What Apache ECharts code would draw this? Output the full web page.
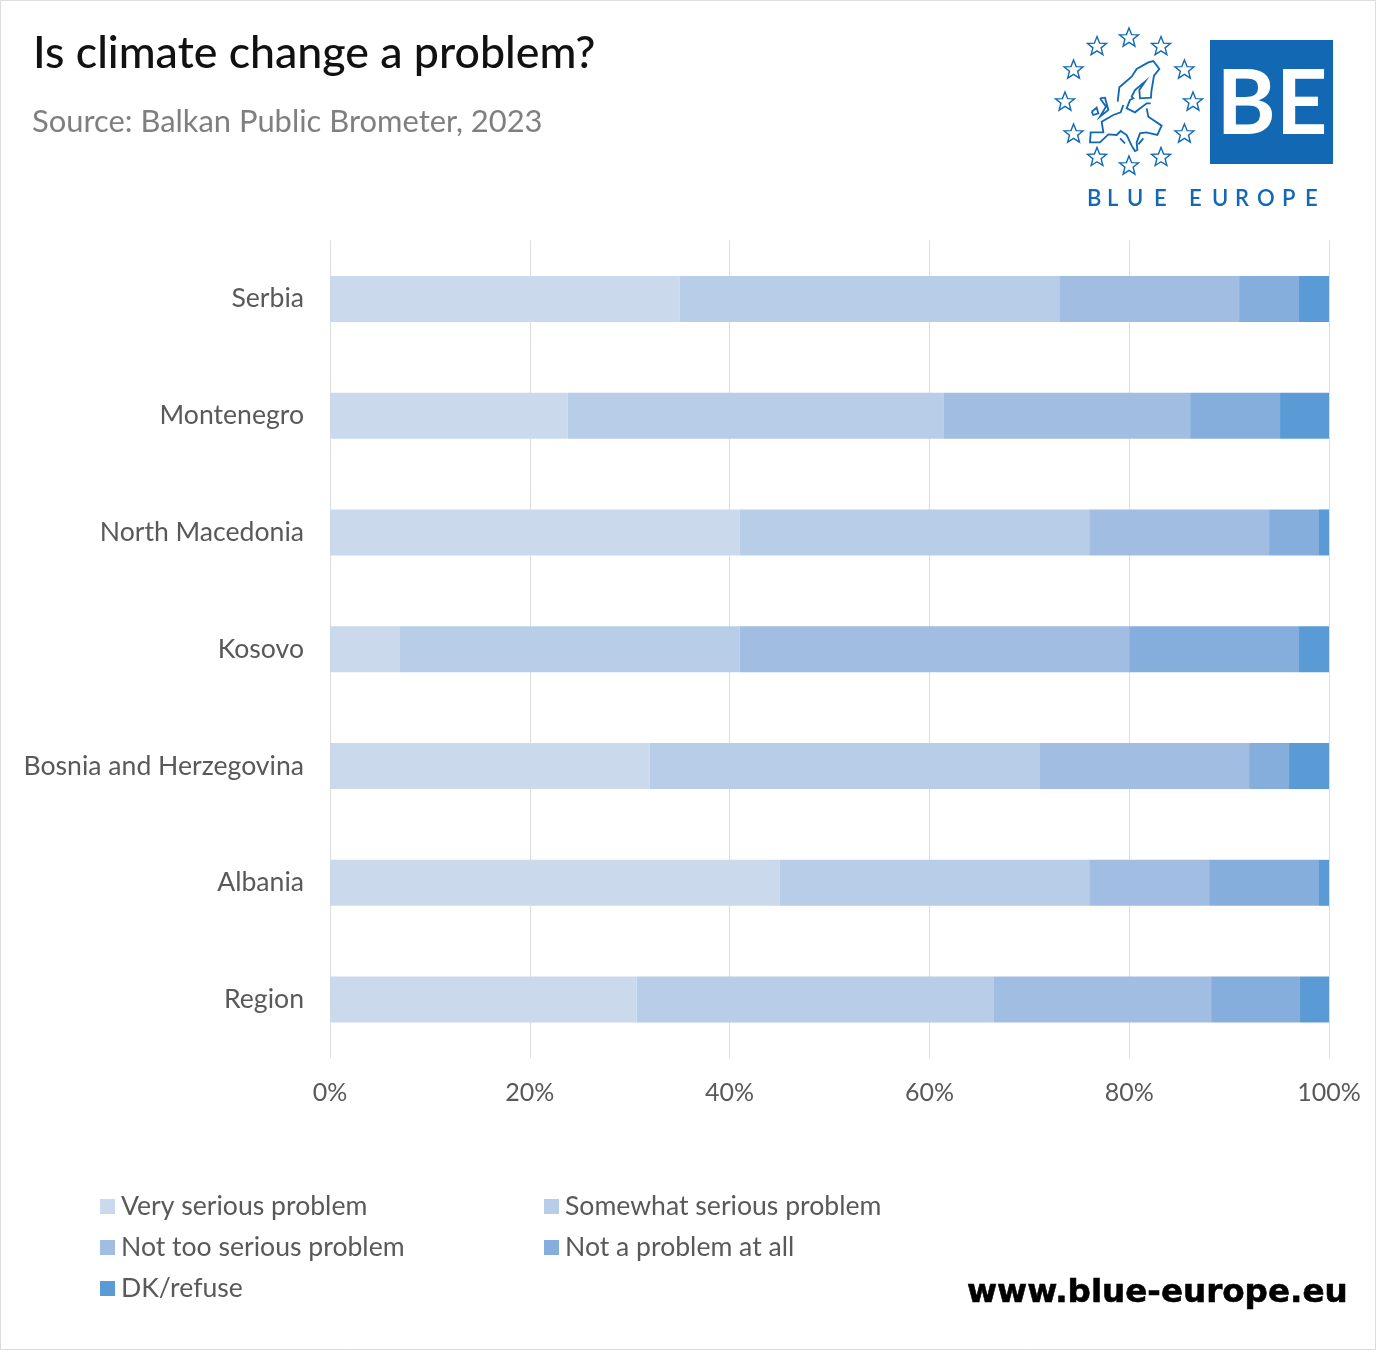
<!DOCTYPE html>
<html>
<head>
<meta charset="utf-8">
<style>html,body{margin:0;padding:0;background:#fff}#c{width:1376px;height:1350px}</style>
<script src="https://cdn.jsdelivr.net/npm/echarts@6/dist/echarts.min.js"></script>
</head>
<body>
<div id="c"></div>
<script>
const categories = ['Serbia','Montenegro','North Macedonia','Kosovo','Bosnia and Herzegovina','Albania','Region'];
const verySerious = [35,23.8,41,7,32,45,30.7];
const somewhatSerious = [38,37.6,35,34,39,31,35.7];
const notTooSerious = [18,24.7,18,39,21,12,21.8];
const notAtAll = [6,9,5,17,4,11,8.9];
const dkRefuse = [3,4.9,1,3,4,1,2.9];
const seriesNames = ['Very serious problem','Somewhat serious problem','Not too serious problem','Not a problem at all','DK/refuse'];
const seriesColors = ['#CBD9ED','#B8CDE8','#A2BDE2','#85AEDC','#5B9BD5'];
const seriesValues = [verySerious,somewhatSerious,notTooSerious,notAtAll,dkRefuse];
const legendSpots = [[100,1193],[544,1193],[100,1234],[544,1234],[100,1275]];

const FONT = 'Lato';
const BLUE = '#1268B3';
const starPts = [[0,-10],[2.6,-3.4],[9.5,-3.1],[4.1,1.3],[5.9,8.1],[0,4.3],[-5.9,8.1],[-4.1,1.3],[-9.5,-3.1],[-2.6,-3.4]];
const stars = [];
for (let i = 0; i < 12; i++) {
  const a = i * Math.PI / 6;
  stars.push({
    type:'polygon', x:1129+64*Math.sin(a), y:102-64*Math.cos(a),
    shape:{points:starPts},
    style:{fill:'none', stroke:BLUE, lineWidth:1.4}
  });
}
const europeLines = [
  [[113,140],[118,97],[155,65],[170,42],[205,22],[220,18],[238,42],[222,62],[214,110],[213,128],[180,130],[178,105],[195,80],[165,105],[155,125],[160,130],[150,135],[140,160],[165,172],[200,145],[212,145]],
  [[130,150],[122,172],[100,180],[65,200],[70,232],[32,232],[30,262],[60,262],[85,238],[110,240],[122,228],[140,240],[155,272],[165,288],[172,285],[170,262],[180,235],[198,232],[232,240],[245,212],[205,185],[200,160]],
  [[120,250],[135,265]],
  [[190,250],[175,268]],
  [[60,130],[75,128],[85,165],[60,185],[78,155],[60,130]],
  [[35,170],[50,158],[55,175],[40,180],[35,170]]
];
const brand = 'BLUE EUROPE';
const brandX = [1087,1107,1127,1154,1189,1212,1235,1257,1282,1305];
const letters = brand.replace(' ','').split('').map((ch,i)=>({
  type:'text', x:brandX[i], y:188,
  style:{text:ch, fill:BLUE, font:'600 22px '+FONT}
}));

const chart = echarts.init(document.getElementById('c'), null, {renderer:'canvas', width:1376, height:1350});
chart.setOption({
  animation:false,
  backgroundColor:'#fff',
  title:[
    {text:'Is climate change a problem?', left:33, top:31, padding:0,
     textStyle:{fontFamily:FONT, fontSize:44.7, fontWeight:500, color:'#111'}},
    {text:'Source: Balkan Public Brometer, 2023', left:32, top:107, padding:0,
     textStyle:{fontFamily:FONT, fontSize:30.9, fontWeight:400, color:'#7f7f7f'}}
  ],
  grid:{left:330, right:47, top:240.5, bottom:292},
  xAxis:{type:'value', min:0, max:100, interval:20,
    axisLabel:{formatter:'{value}%', color:'#595959', fontFamily:FONT, fontSize:25, margin:22},
    axisLine:{show:false}, axisTick:{show:false},
    splitLine:{show:true, lineStyle:{color:'#DDDDDD', width:1}}},
  yAxis:{type:'category', inverse:true, data:categories,
    axisLabel:{color:'#595959', fontFamily:FONT, fontSize:26.6, margin:26},
    axisLine:{show:false}, axisTick:{show:false}, splitLine:{show:false}},
  legend:seriesNames.map((n,i)=>({
    data:[n], left:legendSpots[i][0], top:legendSpots[i][1], padding:0,
    itemWidth:15, itemHeight:15, itemGap:0, icon:'rect', selectedMode:false,
    textStyle:{color:'#595959', fontFamily:FONT, fontSize:26.6, padding:[0,0,0,1]}
  })),
  series:seriesNames.map((n,i)=>({
    name:n, type:'bar', stack:'total', barWidth:46, data:seriesValues[i],
    itemStyle:{color:seriesColors[i]}
  })),
  graphic:[
    {type:'rect', shape:{x:0.5,y:0.5,width:1375,height:1349}, style:{fill:'none', stroke:'#DDDDDD', lineWidth:1}, z:100},
    {type:'rect', shape:{x:1210,y:40,width:123,height:124}, style:{fill:BLUE}},
    {type:'text', x:1272, y:105, style:{text:'BE', fill:'#fff', font:'700 90px '+FONT, align:'center', verticalAlign:'middle'}},
    {type:'group', x:1080, y:55, scaleX:1/3, scaleY:1/3, children:europeLines.map(pts=>({
      type:'polyline', shape:{points:pts}, style:{fill:'none', stroke:BLUE, lineWidth:5.5}
    }))},
    ...stars,
    ...letters,
    {type:'text', x:967, y:1294, style:{text:'www.blue-europe.eu', fill:'#000', stroke:'#000', lineWidth:0.6, font:'700 32.6px "DejaVu Sans"', verticalAlign:'middle'}}
  ]
});
</script>
</body>
</html>
